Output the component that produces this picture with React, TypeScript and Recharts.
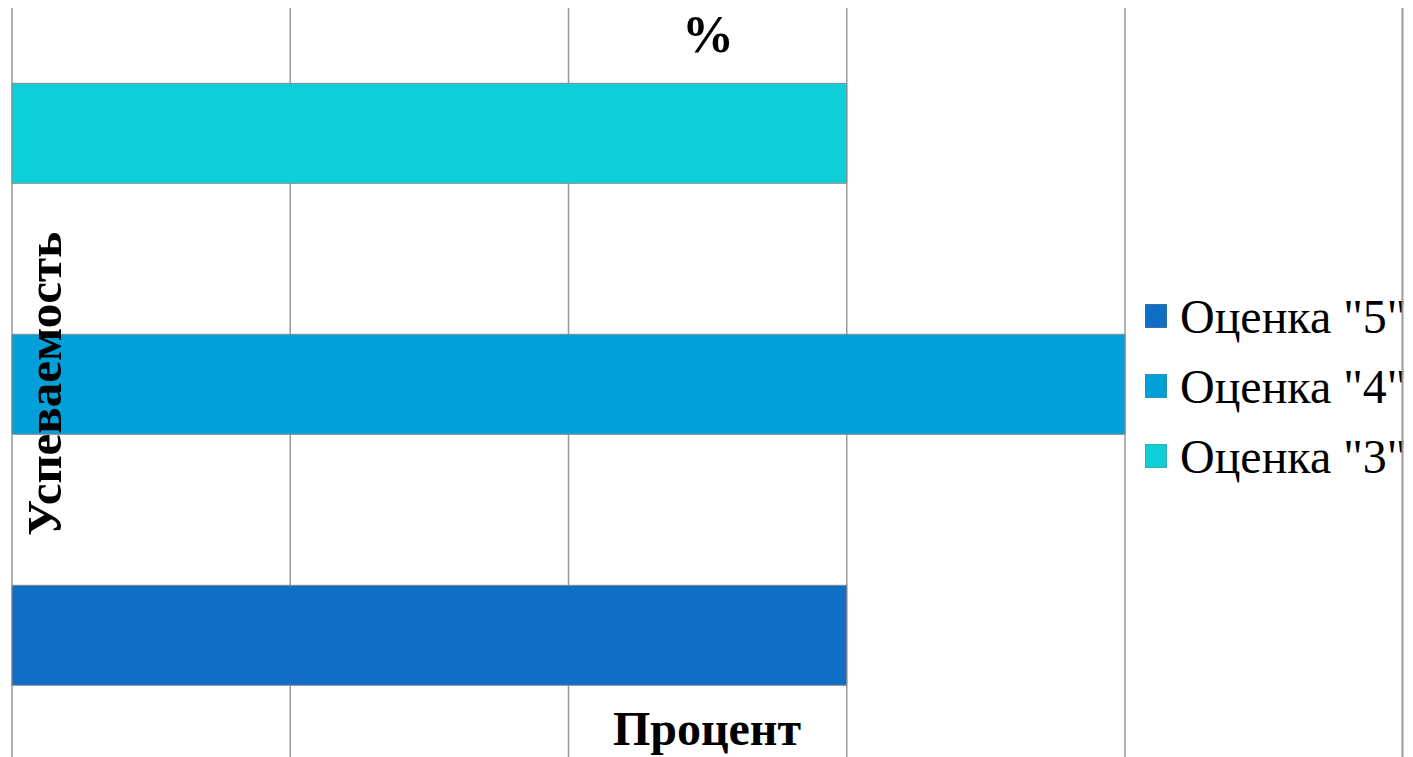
import { BarChart, Bar, XAxis, YAxis, CartesianGrid } from "recharts";

const categories = ['Оценка "3"', 'Оценка "4"', 'Оценка "5"'];
const grade5 = [0, 0, 30];
const grade4 = [0, 40, 0];
const grade3 = [30, 0, 0];
const xTicks = [0, 10, 20, 30, 40];

const seriesNames = ['Оценка "5"', 'Оценка "4"', 'Оценка "3"'];
const seriesKeys = ["g5", "g4", "g3"];
const seriesColors = ["#106EC4", "#029FD8", "#0ECFD8"];

const chartData = categories.map((name, i) => ({
  name,
  g5: grade5[i],
  g4: grade4[i],
  g3: grade3[i],
}));

const FONT = '"Liberation Serif", "Times New Roman", serif';

export default function App() {
  return (
    <div
      style={{
        position: "fixed",
        left: 0,
        top: 0,
        width: 1413,
        height: 757,
        overflow: "hidden",
        background: "#fff",
      }}
    >
      <BarChart
        layout="vertical"
        width={1413}
        height={770}
        data={chartData}
        margin={{ top: 8, right: 288, left: 12, bottom: 9 }}
        barCategoryGap="30%"
      >
        <CartesianGrid horizontal={false} stroke="#999" strokeWidth={1.5} />
        <XAxis type="number" domain={[0, 40]} ticks={xTicks} hide />
        <YAxis type="category" dataKey="name" hide />
        {seriesKeys.map((k, i) => (
          <Bar
            key={k}
            dataKey={k}
            name={seriesNames[i]}
            stackId="a"
            fill={seriesColors[i]}
            stroke="#8a8a8a"
            isAnimationActive={false}
          />
        ))}
      </BarChart>
      {/* legend */}
      <div style={{ position: "absolute", left: 1145, top: 281, fontFamily: FONT }}>
        {seriesNames.map((n, i) => (
          <div key={n} style={{ display: "flex", alignItems: "center", height: 70 }}>
            <span
              style={{
                display: "inline-block",
                width: 22,
                height: 24,
                boxSizing: "border-box",
                border: "1px solid rgba(120,120,120,0.35)",
                background: seriesColors[i],
                marginRight: 13,
              }}
            />
            <span style={{ fontFamily: FONT, fontSize: 48, color: "#000", whiteSpace: "nowrap" }}>
              {n}
            </span>
          </div>
        ))}
      </div>
      <svg
        width={1413}
        height={757}
        style={{ position: "absolute", left: 0, top: 0, pointerEvents: "none" }}
      >
        <line x1={1402.5} y1={8} x2={1402.5} y2={757} stroke="#999" strokeWidth={2} />
        <text x={708} y={52} textAnchor="middle" fontFamily={FONT} fontWeight="bold" fontSize={52}>
          %
        </text>
        <text x={707} y={745} textAnchor="middle" fontFamily={FONT} fontWeight="bold" fontSize={48}>
          Процент
        </text>
        <text
          x={0}
          y={0}
          transform="translate(61,384) rotate(-90)"
          textAnchor="middle"
          fontFamily={FONT}
          fontWeight="bold"
          fontSize={49}
        >
          Успеваемость
        </text>
      </svg>
    </div>
  );
}
